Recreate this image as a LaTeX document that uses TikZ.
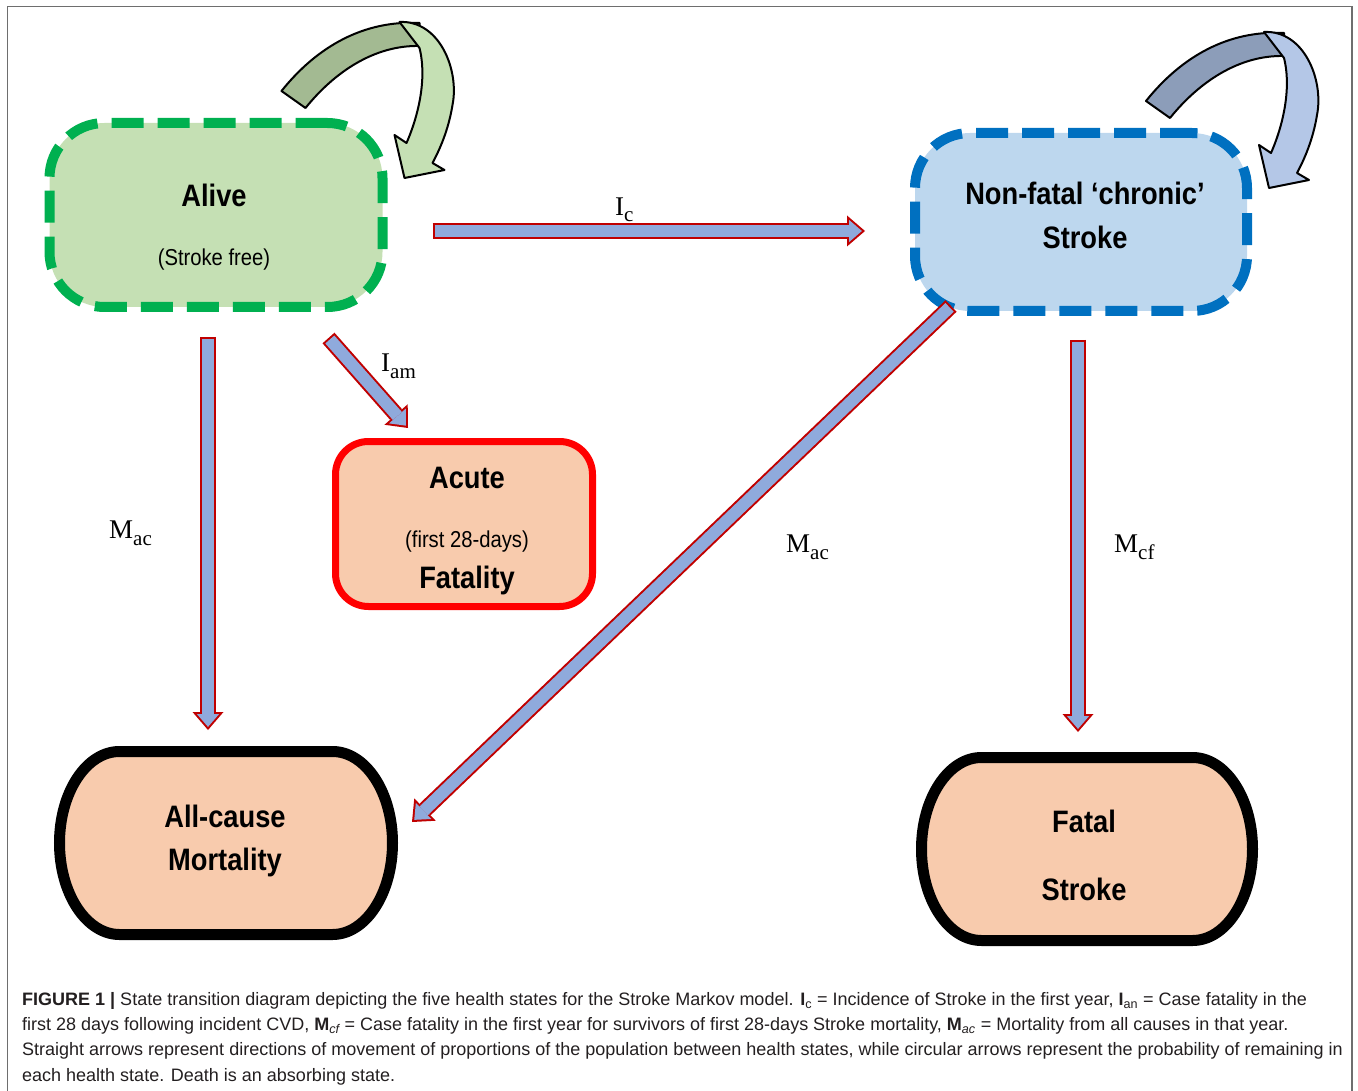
\documentclass[tikz,border=0pt]{standalone}
\usepackage{fontspec}
\setmainfont{Liberation Sans}
\newfontfamily\boxfont[FakeStretch=0.88]{Liberation Sans}
\newfontfamily\ratefont{Liberation Serif}
\usetikzlibrary{arrows.meta}

\definecolor{alivefill}{HTML}{C5E0B4}
\definecolor{alivegreen}{HTML}{00B050}
\definecolor{chronicfill}{HTML}{BDD7EE}
\definecolor{chronicblue}{HTML}{0070C0}
\definecolor{deathfill}{HTML}{F8CBAD}
\definecolor{acutered}{HTML}{FF0000}
\definecolor{arrowblue}{HTML}{8FAADC}
\definecolor{arrowred}{HTML}{C00000}
\definecolor{loopgreendark}{HTML}{A3BA92}
\definecolor{loopgreenlight}{HTML}{C5E0B4}
\definecolor{loopbluedark}{HTML}{8C9DB9}
\definecolor{loopbluelight}{HTML}{B4C7E7}
\definecolor{framegray}{HTML}{6E6E6E}
\definecolor{captiongray}{HTML}{231F20}

\tikzset{
  loopline/.style={draw=black,line width=2pt,line join=round},
  pics/selfloop/.style 2 args={code={
    \filldraw[loopline,fill=#1] (-106,-27) .. controls (-70,-72) and (-23,-98) .. (32,-95)
      -- (32,-72) .. controls (-13,-73) and (-53,-46) .. (-82,-10) -- cycle;
    \filldraw[loopline,fill=#2] (12,-96) .. controls (52,-98) and (72,-48) .. (65,-13)
      .. controls (61,12) and (52,32) .. (45,45) -- (57,52) -- (17,60) -- (7,17) -- (19,25)
      .. controls (30,0) and (40,-38) .. (32,-70) -- cycle;
  }}
}

\begin{document}
\begin{tikzpicture}[x=1pt,y=-1pt,
    livebox/.style={rectangle,rounded corners=55pt,line width=10pt,dash pattern=on 32pt off 14pt,minimum width=333pt},
    acutebox/.style={rectangle,rounded corners=33pt,line width=7pt,draw=acutered,fill=deathfill,minimum width=257pt,minimum height=165pt},
    deathbox/.style={rectangle,minimum width=333pt,minimum height=183pt,outer sep=5.5pt},
    deathline/.style={draw=black,line width=11pt,fill=deathfill},
    boxtitle/.style={font=\boxfont\fontsize{31}{31}\selectfont\bfseries,anchor=base,inner sep=0pt},
    boxnote/.style={font=\boxfont\fontsize{23}{23}\selectfont,anchor=base,inner sep=0pt},
    ratelabel/.style={font=\ratefont\fontsize{27}{27}\selectfont,anchor=base west,inner sep=0pt},
    flow/.style={draw=arrowblue,line width=12pt,shorten <=2pt,shorten >=3.1pt,
      -{Triangle[length=12.9pt,width=22.3pt,line width=0pt]},
      preaction={draw=arrowred,line width=16pt,shorten <=0pt,shorten >=0pt,
        -{Triangle[length=18pt,width=31pt,line width=0pt]}}},
    captionline/.style={font=\fontsize{18}{18}\selectfont,text=captiongray,anchor=base west,inner sep=0pt}
  ]
  \useasboundingbox (0,0) rectangle (1358,1091);
  \draw[framegray,line width=1.5pt] (7.5,6.5) rectangle (1352,1110);

  % health states
  \node[livebox,draw=alivegreen,fill=alivefill,minimum height=184pt] (alive) at (216,215) {};
  \node[livebox,draw=chronicblue,fill=chronicfill,minimum width=332pt,minimum height=178pt] (nonfatal) at (1081,222) {};
  \node[acutebox] (acute) at (464,524) {};
  \node[deathbox] (allcause) at (226,843) {};
  \node[deathbox,minimum width=331pt] (fatal) at (1087,849) {};
  \draw[deathline] (allcause.center) ++(-106.5,-91.5) -- ++(213,0)
    arc[start angle=90,end angle=-90,x radius=60pt,y radius=91.5pt] -- ++(-213,0)
    arc[start angle=270,end angle=90,x radius=60pt,y radius=91.5pt] -- cycle;
  \draw[deathline] (fatal.center) ++(-105.5,-91.5) -- ++(211,0)
    arc[start angle=90,end angle=-90,x radius=60pt,y radius=91.5pt] -- ++(-211,0)
    arc[start angle=270,end angle=90,x radius=60pt,y radius=91.5pt] -- cycle;

  \node[boxtitle] (alivetitle) at (214,207) {Alive};
  \node[boxnote] (alivenote) at (214,266) {(Stroke free)};
  \node[boxtitle] (nonfataltitle) at (1085,205) {Non-fatal ‘chronic’};
  \node[boxtitle] (nonfatalstroke) at (1085,249) {Stroke};
  \node[boxtitle] (acutetitle) at (467,488) {Acute};
  \node[boxnote] (acutenote) at (467,547) {(first 28-days)};
  \node[boxtitle] (acutefatality) at (467,588) {Fatality};
  \node[boxtitle] (allcausetitle) at (225,827) {All-cause};
  \node[boxtitle] (allcausemort) at (225,870) {Mortality};
  \node[boxtitle] (fataltitle) at (1084,832) {Fatal};
  \node[boxtitle] (fatalstroke) at (1084,900) {Stroke};

  % staying in the same state
  \pic at (alive.north east) {selfloop={loopgreendark}{loopgreenlight}};
  \pic at (nonfatal.north east) {selfloop={loopbluedark}{loopbluelight}};

  % transitions
  \draw[flow] ([shift={(45,16)}]alive.east) -- ([shift={(-45,9)}]nonfatal.west);
  \draw[flow] ([shift={(-8,25)}]alive.south) -- ([shift={(-18,-16)}]allcause.north);
  \draw[flow] ([shift={(-59,26)}]alive.south east) -- ([shift={(76,-10)}]acute.north west);
  \draw[flow] ([shift={(41,-10)}]nonfatal.south west) -- ([shift={(14,-21)}]allcause.east);
  \draw[flow] ([shift={(-3,24)}]nonfatal.south) -- ([shift={(-9,-20)}]fatal.north);

  \node[ratelabel] (ic) at (615,216) {I\raisebox{-6pt}{\fontsize{21}{21}\selectfont c}};
  \node[ratelabel] (iam) at (381,372) {I\raisebox{-7pt}{\fontsize{21}{21}\selectfont am}};
  \node[ratelabel] (macleft) at (109,538) {M\raisebox{-7pt}{\fontsize{21}{21}\selectfont ac}};
  \node[ratelabel] (macmid) at (786,552) {M\raisebox{-7pt}{\fontsize{21}{21}\selectfont ac}};
  \node[ratelabel] (mcf) at (1114,552) {M\raisebox{-7pt}{\fontsize{21}{21}\selectfont cf}};

  % caption
  \node[captionline] (caption1) at (22,1005.5) {\textbf{FIGURE 1 |} State transition diagram depicting the five health states for the Stroke Markov model. \textbf{I}\textsubscript{c} = Incidence of Stroke in the first year, \textbf{I}\textsubscript{an} = Case fatality in the};
  \node[captionline] (caption2) at (22,1030.5) {first 28 days following incident CVD, \textbf{M}\textsubscript{\itshape cf} = Case fatality in the first year for survivors of first 28-days Stroke mortality, \textbf{M}\textsubscript{\itshape ac} = Mortality from all causes in that year.};
  \node[captionline] (caption3) at (22,1055.5) {Straight arrows represent directions of movement of proportions of the population between health states, while circular arrows represent the probability of remaining in};
  \node[captionline] (caption4) at (22,1081.5) {each health state. Death is an absorbing state.};
\end{tikzpicture}
\end{document}
